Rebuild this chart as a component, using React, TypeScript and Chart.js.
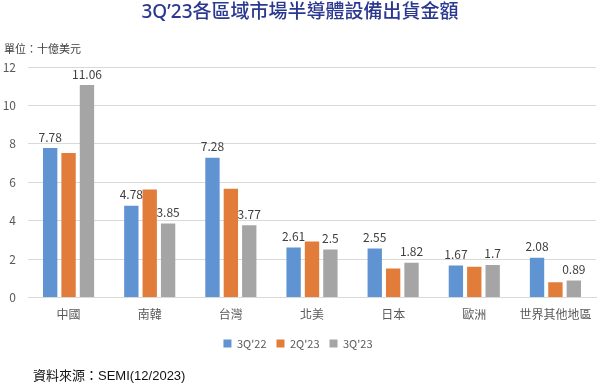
import React, { useEffect, useRef } from "react";
import { Chart, registerables } from "chart.js";

Chart.register(...registerables);

const categories = ["中國", "南韓", "台灣", "北美", "日本", "歐洲", "世界其他地區"];
const series3Q22 = [7.78, 4.78, 7.28, 2.61, 2.55, 1.67, 2.08];
const series2Q23 = [7.53, 5.62, 5.67, 2.92, 1.51, 1.6, 0.8];
const series3Q23 = [11.06, 3.85, 3.77, 2.5, 1.82, 1.7, 0.89];
const seriesNames = ["3Q'22", "2Q'23", "3Q'23"];
const labeledSeries = [0, 2];
const titleText = "3Q’23各區域市場半導體設備出貨金額";
const unitText = "單位：十億美元";
const sourceText = "資料來源：SEMI(12/2023)";

const FONT = "'Noto Sans CJK TC', 'Noto Sans', sans-serif";
const LATIN_FIRST = "'Noto Sans', 'Noto Sans CJK TC', sans-serif";

const extrasPlugin = {
  id: "extras",
  afterDatasetsDraw(chart: any) {
    const ctx = chart.ctx;
    ctx.save();
    ctx.fillStyle = "#404040";
    ctx.font = `12px ${FONT}`;
    ctx.textAlign = "center";
    ctx.textBaseline = "bottom";
    labeledSeries.forEach((di) => {
      const meta = chart.getDatasetMeta(di);
      meta.data.forEach((bar: any, i: number) => {
        const v = chart.data.datasets[di].data[i];
        ctx.fillText(String(v), bar.x, bar.y - 5);
      });
    });
    ctx.restore();
  },
  afterDraw(chart: any) {
    const ctx = chart.ctx;
    ctx.save();
    ctx.fillStyle = "#2b3890";
    ctx.font = `500 19px ${LATIN_FIRST}`;
    ctx.textAlign = "center";
    ctx.textBaseline = "middle";
    ctx.fillText(titleText, 300, 13);
    ctx.fillStyle = "#404040";
    ctx.font = `11px ${FONT}`;
    ctx.textAlign = "left";
    ctx.fillText(unitText, 4, 49);
    ctx.fillStyle = "#111";
    ctx.font = `13px 'Liberation Sans', ${FONT}`;
    ctx.fillText(sourceText, 33, 376);
    ctx.restore();
  },
};

export default function App() {
  const ref = useRef<HTMLCanvasElement | null>(null);
  useEffect(() => {
    if (!ref.current) return;
    const colors = ["#5f93d2", "#e27c3b", "#a5a5a5"];
    const chart = new Chart(ref.current, {
      type: "bar",
      data: {
        labels: categories,
        datasets: [series3Q22, series2Q23, series3Q23].map((d, i) => ({
          label: seriesNames[i],
          data: d,
          backgroundColor: colors[i],
          barPercentage: 0.78,
          categoryPercentage: 0.68,
        })),
      },
      options: {
        responsive: false,
        animation: false,
        devicePixelRatio: 1,
        layout: { padding: { top: 67, left: 0, right: 4, bottom: 27 } },
        plugins: {
          title: { display: false },
          tooltip: { enabled: false },
          legend: {
            position: "bottom",
            labels: {
              boxWidth: 8,
              boxHeight: 8,
              color: "#595959",
              font: { size: 11, family: FONT },
              padding: 10,
            },
          },
        },
        scales: {
          x: {
            grid: { display: false },
            border: { color: "#d9d9d9" },
            ticks: { color: "#595959", font: { size: 12, family: FONT }, padding: 2 },
            afterFit: (s: any) => {
              s.height += 4;
            },
          },
          y: {
            min: 0,
            max: 12,
            ticks: { stepSize: 2, color: "#595959", font: { size: 12, family: FONT }, padding: 12 },
            grid: { color: "#d9d9d9", drawTicks: false },
            border: { display: false },
            afterFit: (s: any) => {
              s.width = 28;
            },
          },
        },
      },
      plugins: [extrasPlugin],
    });
    return () => chart.destroy();
  }, []);
  return (
    <div style={{ position: "fixed", left: 0, top: 0, width: 600, height: 386, background: "#fff" }}>
      <canvas ref={ref} width={600} height={386} style={{ width: 600, height: 386 }} />
    </div>
  );
}
